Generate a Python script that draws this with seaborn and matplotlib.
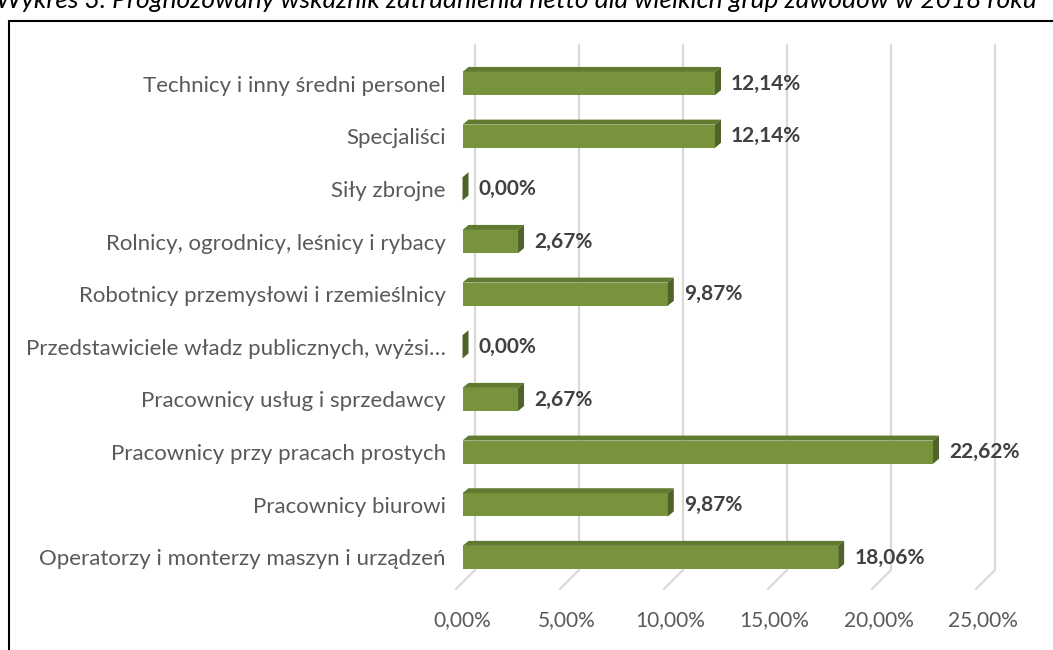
import matplotlib
matplotlib.use("Agg")
import matplotlib.pyplot as plt
import seaborn as sns
from matplotlib.patches import Polygon
from matplotlib.lines import Line2D
from matplotlib.transforms import IdentityTransform

# Dane (od góry do dołu)
kategorie = [
    "Technicy i inny średni personel",
    "Specjaliści",
    "Siły zbrojne",
    "Rolnicy, ogrodnicy, leśnicy i rybacy",
    "Robotnicy przemysłowi i rzemieślnicy",
    "Przedstawiciele władz publicznych, wyżsi…",
    "Pracownicy usług i sprzedawcy",
    "Pracownicy przy pracach prostych",
    "Pracownicy biurowi",
    "Operatorzy i monterzy maszyn i urządzeń",
]
wartosci = [12.14, 12.14, 0.00, 2.67, 9.87, 0.00, 2.67, 22.62, 9.87, 18.06]
ticki = [0, 5, 10, 15, 20, 25]
tytul = "Wykres 3. Prognozowany wskaźnik zatrudnienia netto dla wielkich grup zawodów w 2018 roku"

W, H = 1053, 650
kolor_przod = "#77933C"
kolor_gora = "#5E7B30"
kolor_bok = "#4F6228"

sns.set_style("white")
plt.rcParams["font.family"] = ["Lato", "DejaVu Sans"]

fig = plt.figure(figsize=(W / 100, H / 100), dpi=100)
ax = fig.add_axes([462.5 / W, (H - 583.8) / H, 520 / W, 526.6 / H])

sns.barplot(x=wartosci, y=kategorie, orient="h", color=kolor_przod,
            saturation=1, width=0.44, ax=ax, zorder=2, linewidth=0)
ax.set_xlim(0, 25)
ax.set_ylim(len(kategorie) - 0.5, -0.5)

# ticki i etykiety
ax.set_xticks(ticki)
ax.set_xticklabels([f"{t:.2f}".replace(".", ",") + "%" for t in ticki])
ax.tick_params(axis="x", length=0, pad=19, labelsize=15, labelcolor="#595959")
ax.tick_params(axis="y", length=0, pad=12, labelsize=16, labelcolor="#595959")
ax.set_xlabel("")
ax.set_ylabel("")
for s in ax.spines.values():
    s.set_visible(False)
ax.set_facecolor("none")

# siatka "3D" (pionowe linie z tyłu + skos podłogi)
for t in ticki:
    xd = ax.transData.transform((t, 0))[0]
    xb = xd + 12.5
    ax.add_line(Line2D([xb, xb, xb - 19], [H - 45, H - 570, H - 589],
                       transform=IdentityTransform(), color="#D9D9D9",
                       lw=1.6, clip_on=False, zorder=0.5))

# efekt 3D słupków
dx, dy = 6, 5
for p in ax.patches:
    x0, y0 = p.get_x(), p.get_y()
    w, h = p.get_width(), p.get_height()
    (ax0, ay0) = ax.transData.transform((x0, y0))
    (ax1, ay1) = ax.transData.transform((x0 + w, y0 + h))
    top = max(ay0, ay1)
    bot = min(ay0, ay1)
    gora = [(ax0, top), (ax1, top), (ax1 + dx, top + dy), (ax0 + dx, top + dy)]
    bok = [(ax1, bot), (ax1, top), (ax1 + dx, top + dy), (ax1 + dx, bot + dy)]
    ax.add_patch(Polygon(gora, closed=True, transform=IdentityTransform(),
                         facecolor=kolor_gora, edgecolor="none", clip_on=False, zorder=2))
    ax.add_patch(Polygon(bok, closed=True, transform=IdentityTransform(),
                         facecolor=kolor_bok, edgecolor="none", clip_on=False, zorder=2))

# etykiety wartości
for i, v in enumerate(wartosci):
    ax.annotate(f"{v:.2f}".replace(".", ",") + "%", xy=(v, i),
                xytext=(11.5, 0), textcoords="offset points",
                ha="left", va="center", fontsize=15, fontweight="bold",
                color="#404040", annotation_clip=False)

# ramka i ucięty tytuł
fig.add_artist(Line2D([9 / W, 1], [1 - 21 / H, 1 - 21 / H], color="black", lw=1.5))
fig.add_artist(Line2D([9 / W, 9 / W], [1 - 21 / H, 0], color="black", lw=1.5))
fig.text(-0.004, 1 - 8 / H, tytul, fontsize=19, fontstyle="italic",
         va="baseline", ha="left", color="black")

fig.savefig("out.png", dpi=100, facecolor="white")
